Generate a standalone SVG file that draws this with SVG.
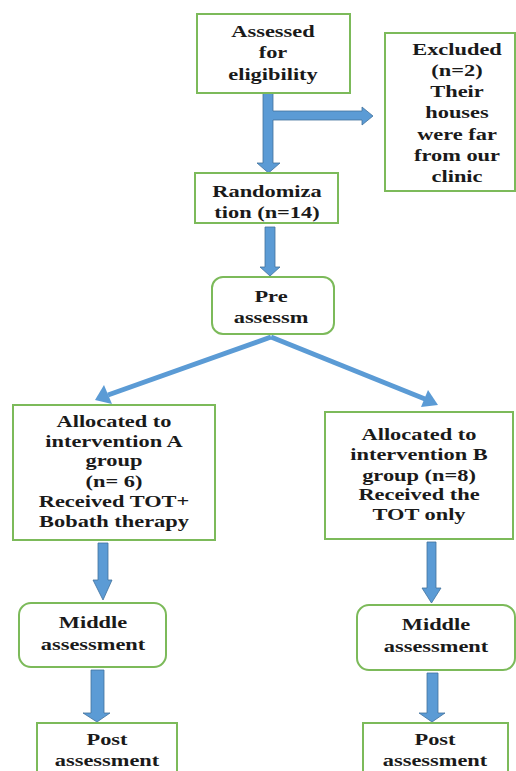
<svg xmlns="http://www.w3.org/2000/svg" width="516" height="771" viewBox="0 0 516 771">
<style>
.box{fill:#fff;stroke:#7cba5a;stroke-width:2}
.t{font-family:"Liberation Serif","Times New Roman",serif;font-weight:bold;font-size:17.5px;fill:#1a1a1a;text-anchor:middle}
.arr{fill:#5b9bd5;stroke:#41719c;stroke-width:0.8}
.ln{stroke:#5b9bd5;stroke-width:5;fill:none}
</style>
<rect width="516" height="771" fill="#fff"/>
<g id="connectors">
  <path class="arr" d="M263,93 H273 V111 H362 V107 L373,116 L362,125 V120 H273 V163 H280 L268.5,173 L257,163 H263 Z"/>
  <path class="arr" d="M265,227 H275 V267 H280 L270,276 L260,267 H265 Z"/>
  <line class="ln" x1="271" y1="337" x2="108" y2="395"/>
  <polygon fill="#5b9bd5" points="95,400 104,385 112,404"/>
  <line class="ln" x1="271" y1="337" x2="425" y2="399"/>
  <polygon fill="#5b9bd5" points="438,405 421,407 428,390"/>
  <path class="arr" d="M98,543 H108 V580 H112 L103,600 L93,580 H98 Z"/>
  <path class="arr" d="M427,542 H436 V588 H441 L431.5,603 L422,588 H427 Z"/>
  <path class="arr" d="M91,670 H104 V713 H110 L97,722 L83,713 H91 Z"/>
  <path class="arr" d="M427,673 H438 V713 H445 L432,722 L419,713 H427 Z"/>
</g>
<g id="assessed">
  <rect class="box" x="197" y="14" width="153" height="79"/>
  <text class="t" transform="translate(273 0) scale(1.28 1)"><tspan x="0" y="37">Assessed</tspan><tspan x="0" y="58">for</tspan><tspan x="0" y="80">eligibility</tspan></text>
</g>
<g id="excluded">
  <rect class="box" x="385" y="33" width="130" height="158"/>
  <text class="t" transform="translate(457 0) scale(1.28 1)"><tspan x="0" y="55">Excluded</tspan><tspan x="0" y="76">(n=2)</tspan><tspan x="0" y="97">Their</tspan><tspan x="0" y="118">houses</tspan><tspan x="0" y="140">were far</tspan><tspan x="0" y="161">from our</tspan><tspan x="0" y="182">clinic</tspan></text>
</g>
<g id="randomization">
  <text class="t" transform="translate(267 0) scale(1.28 1)"><tspan x="0" y="197">Randomiza</tspan><tspan x="0" y="218">tion (n=14)</tspan></text>
  <rect x="195" y="173" width="143" height="50" style="fill:none;stroke:#7cba5a;stroke-width:2"/>
</g>
<g id="pre">
  <rect class="box" x="212" y="277" width="122" height="57" rx="11"/>
  <text class="t" transform="translate(271 0) scale(1.28 1)"><tspan x="0" y="302">Pre</tspan><tspan x="0" y="323">assessm</tspan></text>
</g>
<g id="groupA">
  <rect class="box" x="13" y="405" width="202" height="135"/>
  <text class="t" transform="translate(114 0) scale(1.28 1)"><tspan x="0" y="427">Allocated to</tspan><tspan x="0" y="447">intervention A</tspan><tspan x="0" y="466">group</tspan><tspan x="0" y="487">(n= 6)</tspan><tspan x="0" y="507">Received TOT+</tspan><tspan x="0" y="527">Bobath therapy</tspan></text>
</g>
<g id="groupB">
  <rect class="box" x="325" y="412" width="188" height="127"/>
  <text class="t" transform="translate(419 0) scale(1.28 1)"><tspan x="0" y="440">Allocated to</tspan><tspan x="0" y="460">intervention B</tspan><tspan x="0" y="481">group (n=8)</tspan><tspan x="0" y="500">Received the</tspan><tspan x="0" y="520">TOT only</tspan></text>
</g>
<g id="middleA">
  <rect class="box" x="19" y="603" width="147" height="64" rx="12"/>
  <text class="t" transform="translate(93 0) scale(1.28 1)"><tspan x="0" y="628">Middle</tspan><tspan x="0" y="650">assessment</tspan></text>
</g>
<g id="middleB">
  <rect class="box" x="357" y="605" width="158" height="65" rx="12"/>
  <text class="t" transform="translate(436 0) scale(1.28 1)"><tspan x="0" y="630">Middle</tspan><tspan x="0" y="652">assessment</tspan></text>
</g>
<g id="postA">
  <rect class="box" x="37" y="723" width="140" height="60"/>
  <text class="t" transform="translate(107 0) scale(1.28 1)"><tspan x="0" y="745">Post</tspan><tspan x="0" y="766">assessment</tspan></text>
</g>
<g id="postB">
  <rect class="box" x="363" y="723" width="145" height="60"/>
  <text class="t" transform="translate(435 0) scale(1.28 1)"><tspan x="0" y="745">Post</tspan><tspan x="0" y="766">assessment</tspan></text>
</g>
</svg>
